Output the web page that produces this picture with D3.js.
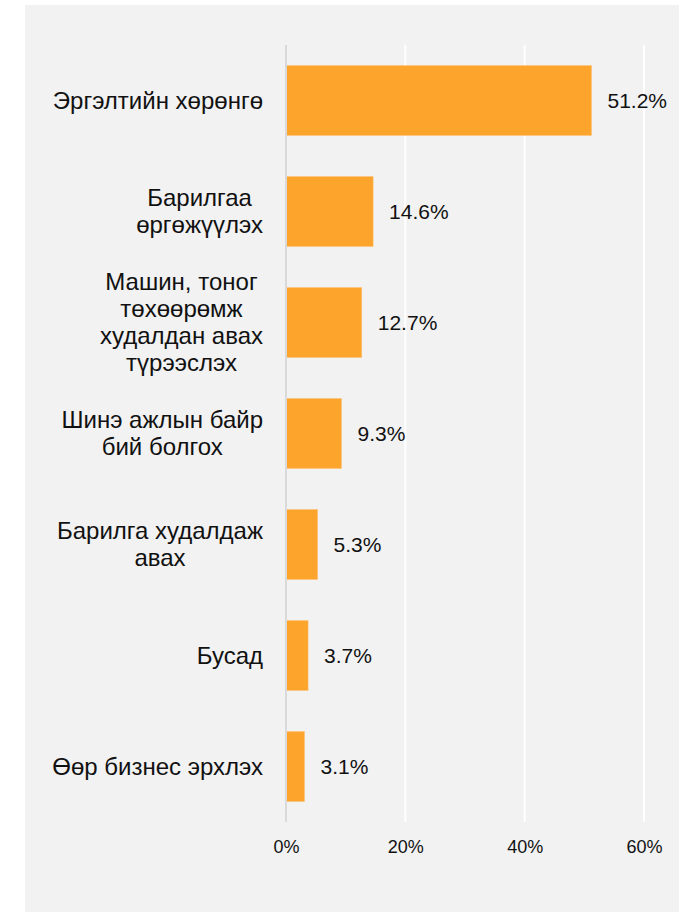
<!DOCTYPE html>
<html><head><meta charset="utf-8">
<script src="https://cdn.jsdelivr.net/npm/d3@7"></script>
<style>body{margin:0;background:#fff;}svg{display:block;font-family:"Liberation Sans",Arial,sans-serif;}</style>
</head><body><svg id="c" width="679" height="912"></svg>
<script>
const categories = [
  ["Эргэлтийн хөрөнгө"],
  ["Барилгаа", "өргөжүүлэх"],
  ["Машин, тоног", "төхөөрөмж", "худалдан авах", "түрээслэх"],
  ["Шинэ ажлын байр", "бий болгох"],
  ["Барилга худалдаж", "авах"],
  ["Бусад"],
  ["Өөр бизнес эрхлэх"]
];
const values = [51.2, 14.6, 12.7, 9.3, 5.3, 3.7, 3.1];
const valueLabels = ["51.2%", "14.6%", "12.7%", "9.3%", "5.3%", "3.7%", "3.1%"];
const ticks = [0, 20, 40, 60];

const svg = d3.select("#c");
svg.append("rect").attr("x",25).attr("y",5).attr("width",654).attr("height",907).attr("fill","#f2f2f2");

const x = d3.scaleLinear().domain([0,60]).range([286,644]);
const y = d3.scaleBand().domain(d3.range(values.length)).range([45,822]).paddingInner(0.37).paddingOuter(0.185);

// gridlines
svg.append("g").selectAll("line").data(ticks.slice(1)).join("line")
  .attr("x1",d=>x(d)).attr("x2",d=>x(d)).attr("y1",45).attr("y2",822)
  .attr("stroke","#ffffff").attr("stroke-width",2);

// bars
svg.append("g").selectAll("rect").data(values).join("rect")
  .attr("x",x(0)).attr("y",(d,i)=>y(i)).attr("width",d=>x(d)-x(0)).attr("height",y.bandwidth())
  .attr("fill","#fda42c").attr("stroke","#fdc27a").attr("stroke-width",0.6);

// zero line
svg.append("line").attr("x1",x(0)).attr("x2",x(0)).attr("y1",45).attr("y2",822)
  .attr("stroke","#d9d9d9").attr("stroke-width",2);

// x axis labels
const xAxis = d3.axisBottom(x).tickValues(ticks).tickFormat(d=>d+"%").tickSize(0).tickPadding(0);
const ga = svg.append("g").attr("transform","translate(0,853)").call(xAxis);
ga.select(".domain").remove();
ga.selectAll("text").attr("dy",null).attr("y",0).attr("font-size",18).attr("fill","#111")
  .attr("font-family","'Liberation Sans', Arial, sans-serif");

// value labels
svg.append("g").selectAll("text").data(values).join("text")
  .attr("x",d=>x(d)+16).attr("y",(d,i)=>y(i)+y.bandwidth()/2).attr("dy","0.35em")
  .attr("font-size",21).attr("fill","#111").text((d,i)=>valueLabels[i]);

// category labels
const lh = 27;
const cl = svg.append("g").selectAll("text").data(categories).join("text")
  .attr("text-anchor","middle").attr("font-size",24).attr("fill","#111")
  .attr("y",(d,i)=>y(i)+y.bandwidth()/2 - (d.length-1)*lh/2);
cl.each(function(d){
  const t = d3.select(this);
  d.forEach((line,j)=>{
    t.append("tspan").attr("x",0).attr("dy", j===0?"0.35em":lh).text(line);
  });
});
cl.each(function(d){
  const t = d3.select(this);
  const w = this.getBBox().width;
  t.selectAll("tspan").attr("x", 263 - w/2);
});
</script></body></html>
